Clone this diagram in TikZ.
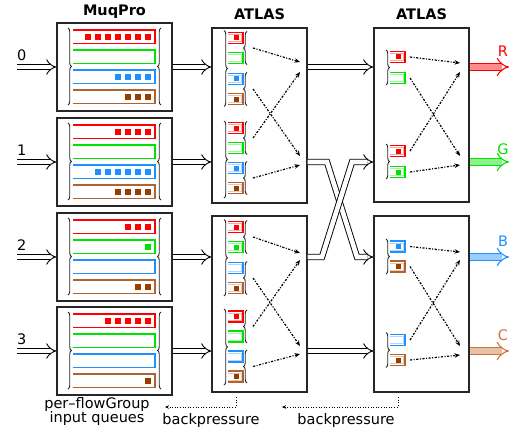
\documentclass[tikz,border=0pt]{standalone}
\usepackage{fontspec}
\setmainfont{DejaVu Sans}
\usetikzlibrary{arrows.meta,decorations.pathreplacing}
\definecolor{qred}{RGB}{255,0,0}
\definecolor{qgreen}{RGB}{0,226,0}
\definecolor{qblue}{RGB}{30,144,255}
\definecolor{qbrown}{RGB}{176,98,48}
\definecolor{qbrownsq}{RGB}{150,62,0}
\definecolor{qbrownlbl}{RGB}{205,115,60}
\tikzset{
  txt/.style={font=\fontsize{14.5}{17}\selectfont, inner sep=0pt, anchor=base},
  ttl/.style={font=\bfseries\fontsize{14.5}{17}\selectfont, inner sep=0pt, anchor=base},
  box/.style={draw=black!85, line width=1.1pt, inner sep=0pt, minimum width=95pt},
  mqbox/.style={draw=black!85, line width=1.1pt, inner sep=0pt, minimum width=115pt, minimum height=88pt},
  hollow/.style={draw=black, double=white, line width=0.9pt, double distance=4.6pt, -{Implies}},
  brc/.style={decorate, decoration={brace, amplitude=3.5pt}, draw=black!85, line width=0.9pt},
  flow/.style={line width=1.2pt, dash pattern=on 2.2pt off 1.5pt on 1pt off 1.5pt, -{Stealth[length=5.5pt,width=4.5pt]}},
  bp/.style={line width=0.9pt, dash pattern=on 1pt off 1.6pt, -{Stealth[length=4pt,width=3.5pt]}},
  outarr/.style={line width=1.1pt, double distance=5.5pt, -{Implies}},
}
\newcommand\QBar[4]{%
  \draw[#2, line width=1.4pt] (73,#1) -- (155,#1) -- (155,{#1+13.5}) -- (73,{#1+13.5});
  \ifnum#3>0
  \foreach \j in {1,...,#3} {\fill[#4] ({150.5-10*(\j-1)-6},{#1+3.75}) rectangle ++(6,6);}
  \fi
}
\newcommand\QIcon[5]{%
  \draw[#3, line width=1.1pt] ({#1-7.5},{#2-5.5}) -- ({#1+7.5},{#2-5.5}) -- ({#1+7.5},{#2+5.5}) -- ({#1-7.5},{#2+5.5});
  \draw[#3!35, line width=0.7pt] ({#1-7.5},{#2-3.6}) -- ({#1+5.6},{#2-3.6}) -- ({#1+5.6},{#2+3.6}) -- ({#1-7.5},{#2+3.6});
  \ifnum#4=1 \fill[#5] ({#1-2},{#2-2.5}) rectangle ++(5,5);\fi
}
\begin{document}
\begin{tikzpicture}[x=1pt,y=-1pt]
\useasboundingbox (0,0) rectangle (510,433);
% titles
\node[ttl] (tmq) at (114.5,15.5) {MuqPro};
\node[ttl] (tat1) at (259.5,19.5) {ATLAS};
\node[ttl] (tat2) at (421.5,19.5) {ATLAS};
% MuqPro boxes
\node[mqbox] (mq0) at (114.5,67) {};
\node[mqbox] (mq1) at (114.5,162) {};
\node[mqbox] (mq2) at (114.5,257) {};
\node[mqbox] (mq3) at (114.5,351) {};
% queues
\QBar{30}{qred}{7}{qred}\QBar{50}{qgreen}{0}{qgreen}\QBar{70}{qblue}{4}{qblue}\QBar{90}{qbrown}{3}{qbrownsq}
\QBar{125}{qred}{4}{qred}\QBar{145}{qgreen}{0}{qgreen}\QBar{165}{qblue}{6}{qblue}\QBar{185}{qbrown}{4}{qbrownsq}
\QBar{220}{qred}{3}{qred}\QBar{240}{qgreen}{1}{qgreen}\QBar{260}{qblue}{0}{qblue}\QBar{280}{qbrown}{2}{qbrownsq}
\QBar{314}{qred}{5}{qred}\QBar{334}{qgreen}{0}{qgreen}\QBar{354}{qblue}{0}{qblue}\QBar{374}{qbrown}{1}{qbrownsq}
\foreach \T in {23,118,213,307} {
  \draw[brc] (68,{\T+5}) -- (68,{\T+82});
  \draw[brc] (161,{\T+82}) -- (161,{\T+5});
}
% input labels and arrows
\node[txt, anchor=base west] (l0) at (17,61) {0};
\node[txt, anchor=base west] (l1) at (17,155) {1};
\node[txt, anchor=base west] (l2) at (17,250) {2};
\node[txt, anchor=base west] (l3) at (17,344) {3};
\coordinate (in0) at (17,67);
\coordinate (in1) at (17,162);
\coordinate (in2) at (17,257);
\coordinate (in3) at (17,351);
\foreach \i in {0,1,2,3} {\draw[hollow] (in\i) -- (mq\i.west);}
% ATLAS boxes
\node[box, minimum height=175pt] (at1a) at (259.5,115.5) {};
\node[box, minimum height=176pt] (at1b) at (259.5,304) {};
\node[box, minimum height=174pt] (at2a) at (421.5,115) {};
\node[box, minimum height=176pt] (at2b) at (421.5,304) {};
% MuqPro -> ATLAS1
\draw[hollow] (mq0.east) -- (mq0.east -| at1a.west);
\draw[hollow] (mq1.east) -- (mq1.east -| at1a.west);
\draw[hollow] (mq2.east) -- (mq2.east -| at1b.west);
\draw[hollow] (mq3.east) -- (mq3.east -| at1b.west);
% ATLAS1 -> ATLAS2
\draw[hollow] (at1a.east |- mq0.east) -- (mq0.east -| at2a.west);
\coordinate (xa1) at (327,162);
\coordinate (xa2) at (357,257);
\coordinate (xb1) at (322,257);
\coordinate (xb2) at (352,162);
\draw[hollow] (at1a.east |- mq1.east) -- (xa1) -- (xa2) -- (xa2 -| at2b.west);
\draw[hollow] (at1b.east |- mq2.east) -- (xb1) -- (xb2) -- (xb2 -| at2a.west);
\draw[hollow] (at1b.east |- mq3.east) -- (mq3.east -| at2b.west);
% ATLAS1 icons
\QIcon{235.5}{38}{qred}{1}{qred}
\QIcon{235.5}{58}{qgreen}{0}{qgreen}
\QIcon{235.5}{79}{qblue}{1}{qblue}
\QIcon{235.5}{99}{qbrown}{1}{qbrownsq}
\QIcon{235.5}{128}{qred}{1}{qred}
\QIcon{235.5}{148}{qgreen}{0}{qgreen}
\QIcon{235.5}{168}{qblue}{1}{qblue}
\QIcon{235.5}{188}{qbrown}{1}{qbrownsq}
\QIcon{235.5}{227}{qred}{1}{qred}
\QIcon{235.5}{247}{qgreen}{1}{qgreen}
\QIcon{235.5}{268}{qblue}{0}{qblue}
\QIcon{235.5}{288}{qbrown}{1}{qbrownsq}
\QIcon{235.5}{316.5}{qred}{1}{qred}
\QIcon{235.5}{336.5}{qgreen}{0}{qgreen}
\QIcon{235.5}{356.5}{qblue}{0}{qblue}
\QIcon{235.5}{376.5}{qbrown}{1}{qbrownsq}
% ATLAS1 braces
\draw[brc] (224,30.5) -- (224,106.5);
\draw[brc] (224,121) -- (224,198);
\draw[brc] (224,219.5) -- (224,296);
\draw[brc] (224,309) -- (224,385);
\foreach \a/\b in {31.5/64.5, 72.5/105.5, 121.5/154.5, 161.5/194.5, 220.5/253.5, 261.5/294.5, 310/343, 350/383} {
  \draw[brc] (247,\b) -- (247,\a);
}
% ATLAS1 flow arrows
\foreach \n/\s/\t in {a1/48/62, a2/89/156, a3/138/72, a4/178/165, b1/237/253, b2/278/346, b3/326.5/260, b4/366.5/354} {
  \coordinate (fs\n) at (253,\s);
  \coordinate (ft\n) at (300,\t);
  \draw[flow] (fs\n) -- (ft\n);
}
% ATLAS2 icons
\QIcon{397.5}{57}{qred}{1}{qred}
\QIcon{397.5}{78}{qgreen}{0}{qgreen}
\QIcon{397.5}{151}{qred}{1}{qred}
\QIcon{397.5}{172}{qgreen}{1}{qgreen}
\QIcon{397.5}{246.5}{qblue}{1}{qblue}
\QIcon{397.5}{266.5}{qbrown}{1}{qbrownsq}
\QIcon{397.5}{340}{qblue}{0}{qblue}
\QIcon{397.5}{360}{qbrown}{1}{qbrownsq}
\draw[brc] (386,50) -- (386,85);
\draw[brc] (386,144) -- (386,179);
\draw[brc] (386,239) -- (386,274);
\draw[brc] (386,332.5) -- (386,367.5);
\foreach \n/\s/\t in {c1/57/63, c2/78/156, c3/151/72, c4/172/165, d1/246.5/252, d2/266.5/346, d3/340/260, d4/360/355} {
  \coordinate (gs\n) at (410,\s);
  \coordinate (gt\n) at (460,\t);
  \draw[flow] (gs\n) -- (gt\n);
}
% outputs
\coordinate (oR) at (509,67);
\coordinate (oG) at (509,162);
\coordinate (oB) at (509,257);
\coordinate (oC) at (509,351);
\draw[outarr, draw=qred, double=qred!45] (at2a.east |- oR) -- (oR);
\draw[outarr, draw=qgreen, double=qgreen!45] (at2a.east |- oG) -- (oG);
\draw[outarr, draw=qblue, double=qblue!45] (at2b.east |- oB) -- (oB);
\draw[outarr, draw=qbrownlbl, double=qbrownlbl!45] (at2b.east |- oC) -- (oC);
\node[txt, text=qred] (lR) at (503,57) {R};
\node[txt, text=qgreen] (lG) at (503,154) {G};
\node[txt, text=qblue] (lB) at (503,246) {B};
\node[txt, text=qbrownlbl] (lC) at (503,340) {C};
% bottom labels
\node[txt] (pf1) at (97,408) {per–flowGroup};
\node[txt] (pf2) at (97,422.5) {input queues};
\node[txt] (bpt1) at (211,424) {backpressure};
\node[txt] (bpt2) at (346,424) {backpressure};
\coordinate (bp1s) at (236,397);
\coordinate (bp1c) at (236,407);
\coordinate (bp1e) at (165,407);
\coordinate (bp2s) at (398,397);
\coordinate (bp2c) at (398,407);
\coordinate (bp2e) at (282,407);
\draw[bp] (bp1s) -- (bp1c) -- (bp1e);
\draw[bp] (bp2s) -- (bp2c) -- (bp2e);
\end{tikzpicture}
\end{document}
